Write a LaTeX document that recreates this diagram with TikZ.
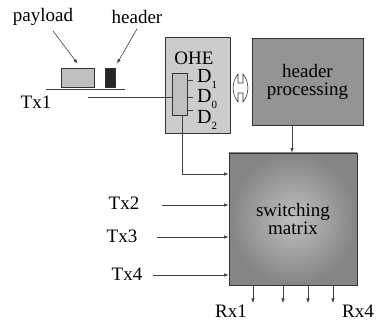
\documentclass[tikz,border=0pt]{standalone}
\usepackage{fontspec}
\setmainfont{Liberation Serif}
\usetikzlibrary{arrows.meta,calc}
\newcommand{\dsub}[1]{\raisebox{-6pt}{\fontsize{11}{11}\selectfont #1}}
\begin{document}
\begin{tikzpicture}[x=1pt,y=-1pt,
  lbl/.style={font=\fontsize{19}{19}\selectfont, inner sep=0pt},
  blk/.style={draw=black!80, line width=0.8pt, inner sep=0pt},
  ln/.style={draw=black!75, line width=0.6pt},
  arr/.style={ln, -{Latex[length=4.5pt,width=3.5pt]}}]
\useasboundingbox (0,0) rectangle (376,323);
% top labels and packet
\node[lbl] (payloadtxt) at (43,17) {payload};
\node[lbl] (headertxt) at (137,17) {header};
\node[blk, fill=black!25, minimum width=33pt, minimum height=19pt] (payload) at (77.5,77.5) {};
\node[blk, fill=black!85, minimum width=10pt, minimum height=19pt] (hdr) at (110,77.5) {};
\coordinate (b1) at (46,89);
\coordinate (b2) at (125,89);
\draw[ln] (b1) -- (b2);
\draw[arr] ([xshift=10pt,yshift=-5pt]payloadtxt.south) -- ([yshift=4pt]payload.north);
\draw[arr] ([xshift=0pt,yshift=-5pt]headertxt.south) -- ([xshift=7pt,yshift=4pt]hdr.north);
% Tx1
\node[lbl] (tx1) at (36,102) {Tx1};
\coordinate (t1) at (88,97);
% OHE
\node[blk, fill=black!20, minimum width=65pt, minimum height=96pt] (ohe) at (197.5,85) {};
\node[lbl] (ohetxt) at (194,58) {OHE};
\node[blk, fill=black!25, minimum width=15pt, minimum height=42pt] (inner) at (179.5,94) {};
\node[lbl, font=\fontsize{20}{20}\selectfont, anchor=base west] (d1) at (197,83) {D\dsub{1}};
\node[lbl, font=\fontsize{20}{20}\selectfont, anchor=base west] (d0) at (197,103) {D\dsub{0}};
\node[lbl, font=\fontsize{20}{20}\selectfont, anchor=base west] (d2) at (197,124) {D\dsub{2}};
\foreach \yy in {80,97,110} {
  \coordinate (s) at (193,\yy);
  \draw[ln] (inner.east |- s) -- (s);
}
\draw[ln] (t1) -- (inner.west |- t1);
% hollow double arrow
\draw[draw=black!80, fill=white, line width=0.6pt, line join=round]
  (233,88) .. controls (234,80) .. (238,74) -- (238,83) -- (243,83) -- (243,74)
  .. controls (247,80) .. (248,88) .. controls (247,96) .. (243,102) -- (243,93) -- (238,93) -- (238,102)
  .. controls (234,96) .. cycle;
% header processing
\node[blk, fill=black!42, minimum width=111pt, minimum height=87pt, align=center, font=\fontsize{19}{18}\selectfont] (hp) at (307.5,81.5) {header\\processing};
% switching matrix
\node[blk, shading=radial, inner color=black!25, outer color=black!48, minimum width=128pt, minimum height=132pt, align=center, font=\fontsize{19}{18}\selectfont] (sm) at (293,219) {switching\\matrix};
\coordinate (hpx) at (292,0);
\draw[arr] (hp.south -| hpx) -- (sm.north -| hpx);
\coordinate (k) at (182,174);
\draw[arr] (inner.south -| k) -- (k) -- (sm.west |- k);
% Tx2-4
\node[lbl] (tx2) at (124,203) {Tx2};
\node[lbl] (tx3) at (122,236) {Tx3};
\node[lbl] (tx4) at (127,274) {Tx4};
\coordinate (a2) at (162,205);
\coordinate (a3) at (157,237);
\coordinate (a4) at (153,275);
\draw[arr] (a2) -- (sm.west |- a2);
\draw[arr] (a3) -- (sm.west |- a3);
\draw[arr] (a4) -- (sm.west |- a4);
% Rx
\foreach \xx [count=\i] in {253,283,308,333} {
  \coordinate (r\i) at (\xx,303);
  \draw[arr] (sm.south -| r\i) -- (r\i);
}
\node[lbl] (rx1) at (231,311) {Rx1};
\node[lbl] (rx4) at (358,311) {Rx4};
\end{tikzpicture}
\end{document}
